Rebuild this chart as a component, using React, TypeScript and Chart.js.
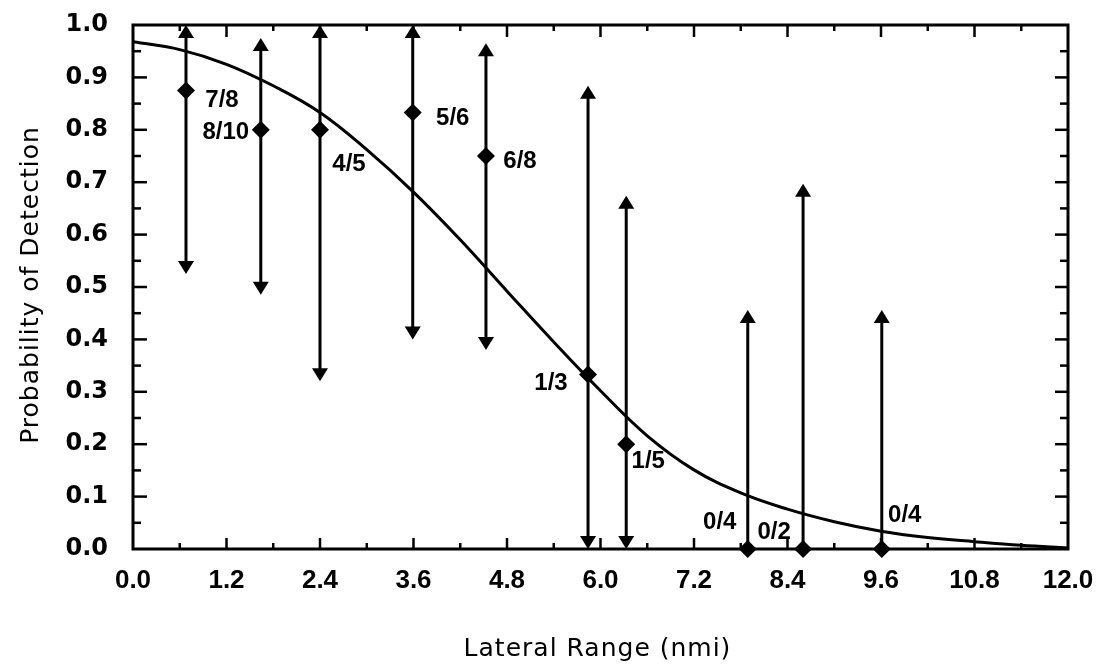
import React, { useEffect, useRef } from 'react';
import { Chart, registerables } from 'chart.js';

Chart.register(...registerables);

// ---- data ----
const rangeX = [0.68, 1.64, 2.4, 3.59, 4.53, 5.84, 6.33, 7.89, 8.6, 9.61];
const detected = [0.875, 0.8, 0.8, 0.833, 0.75, 0.333, 0.2, 0, 0, 0];
const upperBound = [1.0, 0.975, 1.0, 1.0, 0.965, 0.884, 0.674, 0.456, 0.697, 0.456];
const lowerBound: (number | null)[] = [0.525, 0.485, 0.32, 0.4, 0.38, 0, 0, null, null, null];
const ratioLabels = ['7/8', '8/10', '4/5', '5/6', '6/8', '1/3', '1/5', '0/4', '0/2', '0/4'];

const curveX = [0, 0.6, 1.2, 1.8, 2.4, 3.0, 3.6, 4.2, 4.8, 5.4, 6.0, 6.6, 7.2, 7.8, 8.4, 9.0, 9.6, 10.2, 10.8, 11.4, 12.0];
const curveY = [0.968, 0.953, 0.925, 0.884, 0.833, 0.762, 0.681, 0.59, 0.492, 0.395, 0.302, 0.216, 0.151, 0.107, 0.076, 0.052, 0.034, 0.022, 0.014, 0.007, 0.002];

const xTickValues = [0, 1.2, 2.4, 3.6, 4.8, 6.0, 7.2, 8.4, 9.6, 10.8, 12.0];
const yTickValues = [0, 0.1, 0.2, 0.3, 0.4, 0.5, 0.6, 0.7, 0.8, 0.9, 1.0];

const xTitle = 'Lateral Range (nmi)';
const yTitle = 'Probability of Detection';

// ---- styles (pixel offsets for the ratio labels) ----
const labelOffsets: [number, number][] = [
  [36, 10], [-35, 3], [29, 35], [40, 6], [34, 5], [-37, 9], [22, 17], [-28, -27], [-29, -17], [23, -34],
];

const errorBarPlugin = {
  id: 'errorBars',
  afterDatasetsDraw(chart: any) {
    const { ctx, scales } = chart;
    const xs = scales.x;
    const ys = scales.y;
    ctx.save();
    ctx.strokeStyle = '#000';
    ctx.fillStyle = '#000';
    ctx.lineWidth = 3;
    const hw = 8;
    const hh = 13;
    rangeX.forEach((xv, i) => {
      const px = xs.getPixelForValue(xv);
      const pTop = ys.getPixelForValue(upperBound[i]);
      const lb = lowerBound[i];
      const pBot = ys.getPixelForValue(lb === null ? detected[i] : lb);
      ctx.beginPath();
      ctx.moveTo(px, pTop + hh - 1);
      ctx.lineTo(px, lb === null ? pBot : pBot - hh + 1);
      ctx.stroke();
      ctx.beginPath();
      ctx.moveTo(px, pTop);
      ctx.lineTo(px - hw, pTop + hh);
      ctx.lineTo(px + hw, pTop + hh);
      ctx.closePath();
      ctx.fill();
      if (lb !== null) {
        ctx.beginPath();
        ctx.moveTo(px, pBot);
        ctx.lineTo(px - hw, pBot - hh);
        ctx.lineTo(px + hw, pBot - hh);
        ctx.closePath();
        ctx.fill();
      }
      const py = ys.getPixelForValue(detected[i]);
      ctx.font = 'bold 24px "Liberation Sans", Arial, sans-serif';
      ctx.textAlign = 'center';
      ctx.textBaseline = 'middle';
      ctx.fillText(ratioLabels[i], px + labelOffsets[i][0], py + labelOffsets[i][1]);
    });
    ctx.restore();
  },
};

const framePlugin = {
  id: 'frame',
  afterDraw(chart: any) {
    const { ctx, chartArea, scales } = chart;
    const { left, right, top, bottom } = chartArea;
    const xs = scales.x;
    const ys = scales.y;
    ctx.save();
    ctx.strokeStyle = '#000';
    ctx.lineWidth = 3;
    ctx.lineCap = 'square';
    ctx.strokeRect(left, top, right - left, bottom - top);
    ctx.lineWidth = 2.5;
    ctx.lineCap = 'butt';
    const line = (x1: number, y1: number, x2: number, y2: number) => {
      ctx.beginPath();
      ctx.moveTo(x1, y1);
      ctx.lineTo(x2, y2);
      ctx.stroke();
    };
    xTickValues.forEach((v, i) => {
      const px = xs.getPixelForValue(v);
      if (i > 0 && i < xTickValues.length - 1) {
        line(px, bottom, px, bottom - 11);
        line(px, top, px, top + 12);
      }
      if (i < xTickValues.length - 1) {
        const m = xs.getPixelForValue((v + xTickValues[i + 1]) / 2);
        line(m, bottom, m, bottom - 6);
        line(m, top, m, top + 6);
      }
    });
    yTickValues.forEach((v, i) => {
      const py = ys.getPixelForValue(v);
      if (i > 0 && i < yTickValues.length - 1) {
        line(left, py, left + 14, py);
        line(right, py, right - 13, py);
      }
      if (i < yTickValues.length - 1) {
        const m = ys.getPixelForValue((v + yTickValues[i + 1]) / 2);
        line(left, m, left + 8, m);
        line(right, m, right - 8, m);
      }
    });

    // axis titles
    ctx.fillStyle = '#000';
    ctx.font = '25px "DejaVu Sans", sans-serif';
    (ctx as any).letterSpacing = '1px';
    ctx.textAlign = 'center';
    ctx.textBaseline = 'middle';
    ctx.fillText(xTitle, (left + right) / 2 - 3, 649);
    ctx.translate(31, (top + bottom) / 2 - 2);
    ctx.rotate(-Math.PI / 2);
    ctx.fillText(yTitle, 0, 0);
    ctx.restore();
  },
};

const zeroPad = (scale: any) => {
  scale.paddingTop = 0;
  scale.paddingBottom = 0;
  scale.paddingLeft = 0;
  scale.paddingRight = 0;
};

export default function App() {
  const canvasRef = useRef<HTMLCanvasElement | null>(null);

  useEffect(() => {
    const canvas = canvasRef.current;
    if (!canvas) return;
    const chart = new Chart(canvas, {
      type: 'scatter',
      data: {
        datasets: [
          {
            label: 'curve',
            data: curveX.map((x, i) => ({ x, y: curveY[i] })),
            showLine: true,
            borderColor: '#000',
            borderWidth: 3,
            pointRadius: 0,
            tension: 0.4,
            fill: false,
          } as any,
          {
            label: 'observed',
            data: rangeX.map((x, i) => ({ x, y: detected[i] })),
            pointStyle: 'rectRot',
            pointRadius: 9,
            backgroundColor: '#000',
            borderColor: '#000',
            borderWidth: 0,
            clip: false,
          } as any,
        ],
      },
      options: {
        animation: false,
        responsive: false,
        devicePixelRatio: 1,
        layout: { padding: { top: 25, right: 31, left: 0, bottom: 0 } },
        plugins: {
          legend: { display: false },
          tooltip: { enabled: false },
        },
        scales: {
          x: {
            type: 'linear',
            min: 0,
            max: 12,
            grid: { display: false, drawTicks: false },
            border: { display: false },
            afterBuildTicks: (scale: any) => {
              scale.ticks = xTickValues.map((v) => ({ value: v }));
            },
            afterFit: (scale: any) => {
              scale.height = 118;
              zeroPad(scale);
            },
            ticks: {
              padding: 16,
              color: '#000',
              font: { family: '"Liberation Sans", Arial, sans-serif', size: 26, weight: 'bold' },
              maxRotation: 0,
              autoSkip: false,
              callback: (v: any) => Number(v).toFixed(1),
            },
          },
          y: {
            type: 'linear',
            min: 0,
            max: 1,
            grid: { display: false, drawTicks: false },
            border: { display: false },
            afterBuildTicks: (scale: any) => {
              scale.ticks = yTickValues.map((v) => ({ value: v }));
            },
            afterFit: (scale: any) => {
              scale.width = 133;
              zeroPad(scale);
            },
            ticks: {
              padding: 25,
              color: '#000',
              font: { family: '"DejaVu Sans", sans-serif', size: 24, weight: 'bold' },
              autoSkip: false,
              callback: (v: any) => Number(v).toFixed(1),
            },
          },
        },
      } as any,
      plugins: [errorBarPlugin, framePlugin],
    });
    return () => chart.destroy();
  }, []);

  return (
    <div style={{ position: 'fixed', left: 0, top: 0, width: 1099, height: 667, background: '#fff' }}>
      <canvas ref={canvasRef} width={1099} height={667} style={{ display: 'block', width: 1099, height: 667 }} />
    </div>
  );
}
